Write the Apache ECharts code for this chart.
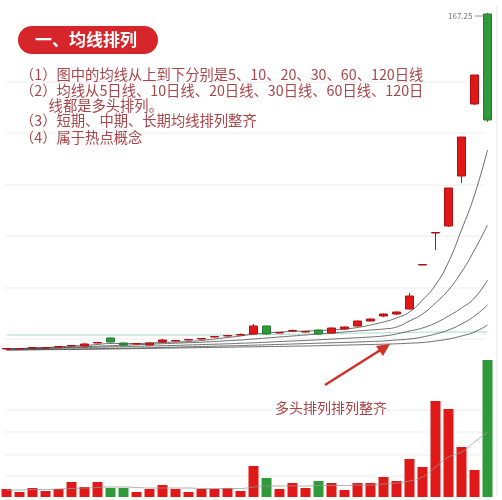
<!DOCTYPE html>
<html><head><meta charset="utf-8">
<script src="https://cdn.jsdelivr.net/npm/echarts@6/dist/echarts.min.js"></script>
<style>html,body{margin:0;padding:0;background:#fff}#c{width:502px;height:500px}</style>
</head><body><div id="c"></div>
<script>
const days = Array.from({length:38},(_,i)=>'D'+(i+1));
// [open, close, low, high]
const candles = [
[51,51.5,50.5,52],[51,51.5,50.5,52],[52,52.5,51.5,53],[52,52.5,51.5,53],[53,53.5,52.5,54],
[54,54.5,53.5,55],[54,56,53.5,57],[57,57.5,56.5,58],[62,58,57.5,62.5],[57,55,54.5,57.5],
[56,56.5,55.5,57],[55,57,54.5,57.5],[58,60,57.5,61],[59,59.5,58.5,60],[60,60.5,59.5,61],
[61,61.5,60.5,62],[63,63.5,62.5,64],[64,64.5,63.5,65],[65,65.5,64.5,66.5],[66,74,65.5,76],
[74,66,65.5,74.5],[67,67.5,66.5,68],[69,69.5,68.5,70.5],[68,68.5,67.5,69],[70,66,65.5,70.5],
[67,72,66.5,72.5],[71,73,70.5,73.5],[74,79,73.5,79.5],[79,81,78.5,81.5],[84,86,83,86.5],
[86,88,85,88.5],[91,104,90.5,107],[135,135.5,135,135.5],[167,167.5,150,167.5],[174,212,173,212],
[224,263,217,263],[296,325,295,325],[386,280,278,387]
];
const ma5 = [51,51.5,52,52.5,53,54,54.5,55.5,56.5,56.5,56.5,57,57.5,58,58.5,59.5,61,62.5,64,66,67,68,68.5,69,69.5,70,71,72.5,75,78,82,88,100,115,138,170,205,250];
const ma10 = [51,51.3,51.6,52,52.3,52.8,53.3,53.8,54.3,54.8,55.3,55.8,56.3,56.8,57.3,57.8,58.5,59.3,60,61,62,63,64,65,66,67,68,69,70,71,73,79,86,97,110,128,150,175];
const ma20 = [51,51.2,51.4,51.6,51.9,52.2,52.5,52.8,53.1,53.4,53.7,54,54.3,54.6,55,55.4,55.8,56.2,56.7,57.2,57.8,58.4,59,59.6,60.2,60.9,61.6,62.3,63,64,66,69,72,77,84,92,102,120];
const ma30 = [50,50.2,50.4,50.6,50.8,51,51.2,51.4,51.6,51.8,52,52.3,52.6,52.9,53.2,53.5,53.8,54.1,54.4,54.8,55.2,55.6,56,56.4,56.8,57.2,57.6,58,58.5,59,60,61,63,66,70,76,84,95];
const ma60 = [50,50.1,50.2,50.3,50.4,50.5,50.6,50.8,51,51.2,51.4,51.6,51.8,52,52.2,52.4,52.6,52.8,53,53.2,53.4,53.6,53.8,54,54.3,54.6,54.9,55.2,55.5,55.8,56.2,56.8,57.5,59,61,64,68,75];
const ma120 = [65,65,65,65,65,65,65,65,65,65,65,65,65,65,65,65,65,65,65,65.2,65.4,65.6,65.8,66,66.2,66.4,66.6,66.8,67,67.2,67.4,67.6,67.8,68,68,68,68,68];
const volume = [8,5,9,6,8,15,10,15,9,9,5,8,12,8,5,8,8,9,6,31,19,8,14,9,16,14,7,14,14,20,16,38,30,96,88,50,27,137];
const volMa = [7,7,7.5,7.5,8,8.5,9,9.5,10,10,9.5,9,9,9,9,8.5,8.5,8.5,8.5,10,11,11,11,11,11.5,11.5,11.5,12,12,13,14,16,20,30,40,45,55,65];
const priceLabel = '167.25';
const title = '一、均线排列';
const notes = ['（1）图中的均线从上到下分别是5、10、20、30、60、120日线','（2）均线从5日线、10日线、20日线、30日线、60日线、120日','　　线都是多头排列。','（3）短期、中期、长期均线排列整齐','（4）属于热点概念'];
const annotation = '多头排列排列整齐';

const up = '#e01818', down = '#2f9a3a';
const chart = echarts.init(document.getElementById('c'));
const line = (d,c,w)=>({type:'line',data:d,symbol:'none',smooth:true,lineStyle:{color:c,width:w||0.8},xAxisIndex:0,yAxisIndex:0,z:3});
const gridLines = [82,133,185,236,288,339,410,432,455,476].map(y=>({type:'line',shape:{x1:5,y1:y,x2:485,y2:y},style:{stroke:'#ececec',lineWidth:1},z:-1}));
const ff = '"Noto Sans CJK SC", sans-serif';
chart.setOption({
  animation:false,
  textStyle:{fontFamily:ff},
  grid:[{left:0,right:8,top:10,bottom:140},{left:0,right:8,top:360,bottom:3}],
  xAxis:[{type:'category',data:days,gridIndex:0,show:false,boundaryGap:true},
         {type:'category',data:days,gridIndex:1,show:false,boundaryGap:true}],
  yAxis:[{type:'value',gridIndex:0,min:40,max:390,show:false},
         {type:'value',gridIndex:1,min:0,max:137,show:false}],
  series:[
    {type:'candlestick',data:candles,barWidth:9,itemStyle:{color:up,color0:down,borderColor:'#b01010',borderColor0:'#257a2e',borderWidth:1},z:4},
    line(ma120,'#9fd6c8',1), line(ma60,'#444'), line(ma30,'#444'), line(ma20,'#444'), line(ma10,'#444'), line(ma5,'#444'),
    {type:'bar',data:volume.map((v,i)=>({value:v,itemStyle:{color:(candles[i][1]>=candles[i][0])?up:down}})),xAxisIndex:1,yAxisIndex:1,barWidth:10},
    {type:'line',data:volMa,xAxisIndex:1,yAxisIndex:1,symbol:'none',smooth:true,lineStyle:{color:'#999',width:0.8}}
  ],
  graphic:[
    ...gridLines,
    {type:'rect',shape:{x:18,y:26,width:140,height:28,r:14},style:{fill:'#d7262b'},z:10},
    {type:'text',x:35,y:40,style:{text:title,fill:'#fff',font:'bold 17px '+ff,verticalAlign:'middle'},z:11},
    ...notes.map((t,i)=>({type:'text',x:20,y:[75,91,106,121,138][i],style:{text:t,fill:'#a8454a',font:'14.3px '+ff,verticalAlign:'middle'},z:10})),
    {type:'text',x:275,y:408,style:{text:annotation,fill:'#a8454a',font:'14px '+ff,verticalAlign:'middle'},z:10},
    {type:'line',shape:{x1:325,y1:385,x2:382,y2:349},style:{stroke:'#d03028',lineWidth:2.5},z:10},
    {type:'polygon',shape:{points:[[390,344],[376,346],[383,356]]},style:{fill:'#d03028'},z:10},
    {type:'text',x:448,y:16,style:{text:priceLabel,fill:'#777',font:'8px '+ff,verticalAlign:'middle'},z:10},
    {type:'line',shape:{x1:475,y1:16,x2:487,y2:16},style:{stroke:'#777',lineWidth:0.8},z:10},
    {type:'line',shape:{x1:497,y1:5,x2:497,y2:495},style:{stroke:'#e6e6e6',lineWidth:1},z:10}
  ]
});
</script></body></html>
